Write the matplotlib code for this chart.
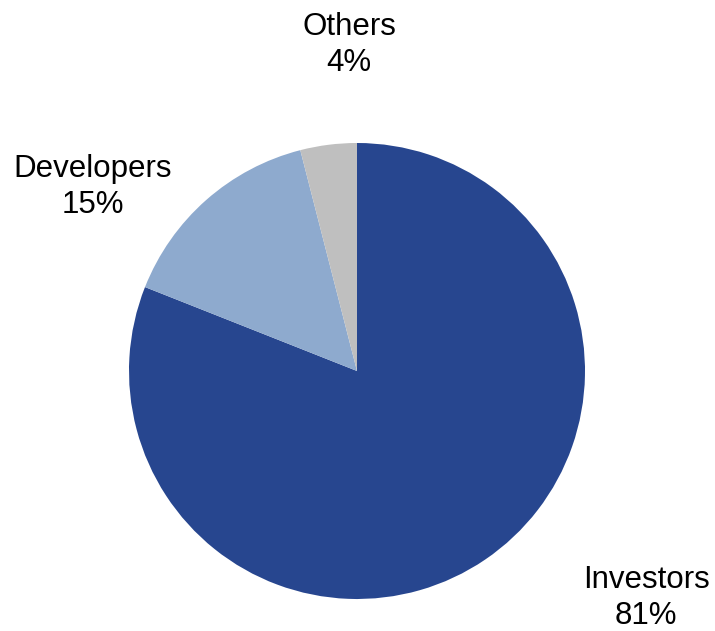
import matplotlib
matplotlib.use("Agg")
import matplotlib.pyplot as plt

categories = ["Investors", "Developers", "Others"]
shares = [81, 15, 4]
colors = ["#27468F", "#8EAACE", "#BFBFBF"]

W, H = 715, 631
fig = plt.figure(figsize=(W / 100, H / 100), dpi=100)
ax = fig.add_axes([0, 0, 1, 1])

cx, cy, r = 357, H - 371, 228
ax.pie(shares, colors=colors, startangle=90, counterclock=False,
       center=(cx, cy), radius=r, frame=True,
       wedgeprops=dict(linewidth=0))
ax.set_xlim(0, W)
ax.set_ylim(0, H)
ax.set_aspect("equal")
ax.axis("off")

label_pos = [(646, H - 598), (93, H - 187), (349, H - 45)]
for name, val, (x, y) in zip(categories, shares, label_pos):
    ax.text(x, y, f"{name}\n{val}%", ha="center", va="center",
            fontsize=22.5, family="Liberation Sans", linespacing=1.25,
            color="#000000")

fig.savefig("out.png", dpi=100)
